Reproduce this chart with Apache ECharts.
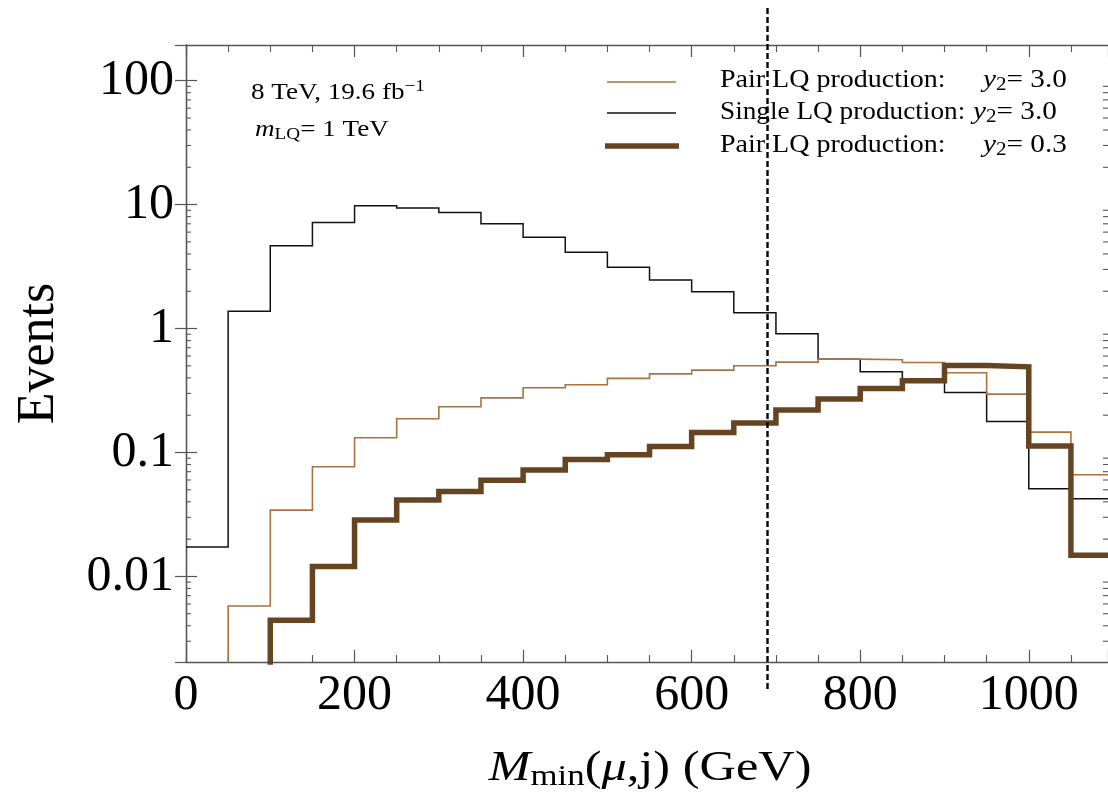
<!DOCTYPE html>
<html><head><meta charset="utf-8">
<script src="https://cdn.jsdelivr.net/npm/echarts@6/dist/echarts.min.js"></script>
<style>html,body{margin:0;padding:0;background:#fff}#c{width:1108px;height:792px}</style>
</head><body><div id="c"></div>
<script>
// bin left edges (GeV), bins 50 GeV wide
const binEdges = [0,50,100,150,200,250,300,350,400,450,500,550,600,650,700,750,800,850,900,950,1000,1050];
const binWidth = 50;
// Pair LQ production, y2 = 3.0 (thin brown)
const pairY3 = [0.0001,0.00577,0.0343,0.0767,0.1315,0.187,0.234,0.276,0.333,0.352,0.396,0.431,0.462,0.501,0.536,0.567,0.560,0.532,0.44,0.296,0.146,0.0661];
// Single LQ production, y2 = 3.0 (black)
const singleY3 = [0.0173,1.38,4.65,7.17,9.77,9.41,8.63,7.0,5.46,4.13,3.13,2.46,1.98,1.34,0.907,0.566,0.448,0.39,0.305,0.178,0.0509,0.0423];
// Pair LQ production, y2 = 0.3 (thick dark brown)
const pairY03 = [0.0001,0.0001,0.00444,0.0120,0.0285,0.0413,0.0485,0.0598,0.0721,0.0879,0.0959,0.112,0.145,0.173,0.22,0.27,0.329,0.379,0.504,0.491,0.113,0.0148];
// vertical cut line
const cutValue = [690];
// axis ticks
const xTickValues = [0,200,400,600,800,1000];
const yTickValues = [0.01,0.1,1,10,100];
const yTickLabels = ['0.01','0.1','1','10','100'];
const yMinorTicks = [];
[0.001,0.01,0.1,1,10,100].forEach(d=>{for(let k=2;k<=9;k++){yMinorTicks.push(d*k);}});

const X_MIN = 0, X_MAX = 1094, Y_MIN = 0.00204, Y_MAX = 194;
const FONT = 'Liberation Serif';

function steps(vals){
  const d = binEdges.map((x,i)=>[x, vals[i]]);
  d.push([binEdges[binEdges.length-1]+binWidth, vals[vals.length-1]]);
  return d;
}

const chart = echarts.init(document.getElementById('c'));
const frameColor = '#555';
const axisCommon = {
  axisLine:{show:true, lineStyle:{color:frameColor, width:1.3}},
  splitLine:{show:false}
};
function yLabel(v){
  let best=0, bd=1e9;
  yTickValues.forEach((t,i)=>{const d=Math.abs(Math.log10(v)-Math.log10(t)); if(d<bd){bd=d;best=i;}});
  return bd<0.01 ? yTickLabels[best] : '';
}
const legendRich = (fs)=>({
  i:{fontFamily:FONT, fontStyle:'italic', fontSize:fs},
  sub:{fontFamily:FONT, fontSize:Math.round(fs*0.7), verticalAlign:'bottom', padding:[Math.round(fs*0.38),0,0,0]},
  sup:{fontFamily:FONT, fontSize:Math.round(fs*0.7), verticalAlign:'top', padding:[0,0,Math.round(fs*0.5),0]},
  n:{fontFamily:FONT, fontSize:fs}
});
function txt(x, y, text, fs, sx, align){
  return {type:'text', x:x, y:y, scaleX:sx, scaleY:1, silent:true,
    style:{text:text, fontFamily:FONT, fontSize:fs, fill:'#000', align:align||'left', verticalAlign:'middle', rich:legendRich(fs)}};
}
chart.setOption({
  animation:false,
  backgroundColor:'#fff',
  grid:{left:186, top:45, right:0, bottom:130, containLabel:false},
  xAxis:[
    Object.assign({}, axisCommon, {
      type:'value', min:X_MIN, max:X_MAX, interval:200, position:'bottom',
      axisTick:{show:true, inside:true, length:12, lineStyle:{color:frameColor, width:1.2}},
      minorTick:{show:true, splitNumber:4, length:7, lineStyle:{color:frameColor, width:1.1}},
      axisLabel:{show:true, showMaxLabel:false, margin:9, fontFamily:FONT, fontSize:50, color:'#000',
        formatter:v=> xTickValues.indexOf(v)>=0 ? String(v) : ''}
    }),
    Object.assign({}, axisCommon, {
      type:'value', min:X_MIN, max:X_MAX, interval:200, position:'top',
      axisTick:{show:true, inside:true, length:12, lineStyle:{color:frameColor, width:1.2}},
      minorTick:{show:true, splitNumber:4, length:7, lineStyle:{color:frameColor, width:1.1}},
      axisLabel:{show:false}
    })
  ],
  yAxis:[
    Object.assign({}, axisCommon, {
      type:'log', logBase:10, min:Y_MIN, max:Y_MAX, position:'left',
      axisTick:{show:true, inside:true, length:11, lineStyle:{color:frameColor, width:1.2}},
      axisLabel:{show:true, showMinLabel:false, showMaxLabel:false, margin:12, fontFamily:FONT, fontSize:50, color:'#000',
        formatter:yLabel},
      name:'Events', nameLocation:'middle', nameRotate:90, nameGap:121,
      nameTextStyle:{fontFamily:FONT, fontSize:52, color:'#000'}
    }),
    Object.assign({}, axisCommon, {
      type:'log', logBase:10, min:Y_MIN, max:Y_MAX, position:'right',
      axisTick:{show:true, inside:true, length:11, lineStyle:{color:frameColor, width:1.2}},
      axisLabel:{show:false}
    })
  ],
  series:[
    {type:'custom', name:'yMinor', xAxisIndex:0, yAxisIndex:0, silent:true, clip:false, z:1,
      data: yMinorTicks.filter(v=>v>Y_MIN && v<Y_MAX).map(v=>[X_MIN, v]),
      renderItem:(params, api)=>{
        const cs = params.coordSys;
        const p = api.coord([api.value(0), api.value(1)]);
        const st = {stroke:frameColor, lineWidth:1.1};
        return {type:'group', children:[
          {type:'line', shape:{x1:cs.x, y1:p[1], x2:cs.x+5, y2:p[1]}, style:st},
          {type:'line', shape:{x1:cs.x+cs.width-5, y1:p[1], x2:cs.x+cs.width, y2:p[1]}, style:st}
        ]};
      }
    },
    {type:'line', name:'Pair LQ production: y2 = 3.0', step:'end', showSymbol:false, symbol:'none',
      data: steps(pairY3), lineStyle:{color:'#a8733f', width:1.6, cap:'butt', join:'miter'}, z:3},
    {type:'line', name:'Single LQ production: y2 = 3.0', step:'end', showSymbol:false, symbol:'none',
      data: steps(singleY3), lineStyle:{color:'#111', width:1.5, cap:'butt', join:'miter'}, z:2},
    {type:'line', name:'Pair LQ production: y2 = 0.3', step:'end', showSymbol:false, symbol:'none',
      data: steps(pairY03), lineStyle:{color:'#664422', width:5.5, cap:'butt', join:'miter'}, z:4},
    {type:'custom', name:'cut', silent:true, clip:false, z:6,
      data: cutValue.map(v=>[v]),
      renderItem:(params, api)=>{
        const cs = params.coordSys;
        const p = api.coord([api.value(0), Y_MAX]);
        return {type:'line', shape:{x1:p[0], y1:cs.y-37, x2:p[0], y2:cs.y+cs.height+30},
          style:{stroke:'#000', lineWidth:2.4, lineDash:[6,3]}};
      }
    }
  ],
  graphic:[
    // x axis title
    txt(650, 769, '{i|M}{sub|min}({i|μ},j) (GeV)', 42, 1.2, 'center'),
    // annotation
    txt(251, 93, '{n|8 TeV, 19.6 fb}{sup|−1}', 24, 1.13),
    txt(255, 130, '{i|m}{sub|LQ}{n|= 1 TeV}', 24, 1.13),
    // legend lines
    {type:'line', shape:{x1:607, y1:82, x2:676, y2:82}, style:{stroke:'#a8733f', lineWidth:1.6}},
    {type:'line', shape:{x1:607, y1:113, x2:676, y2:113}, style:{stroke:'#111', lineWidth:1.5}},
    {type:'line', shape:{x1:605, y1:146, x2:679, y2:146}, style:{stroke:'#664422', lineWidth:5.5}},
    // legend text
    txt(720, 80, '{n|Pair LQ production:}', 25, 1.12),
    txt(983, 80, '{i|y}{sub|2}{n|= 3.0}', 25, 1.17),
    txt(720, 112.5, '{n|Single LQ production:}', 25, 1.09),
    txt(973, 112.5, '{i|y}{sub|2}{n|= 3.0}', 25, 1.17),
    txt(720, 145, '{n|Pair LQ production:}', 25, 1.12),
    txt(983, 145, '{i|y}{sub|2}{n|= 0.3}', 25, 1.17)
  ]
});
</script></body></html>
